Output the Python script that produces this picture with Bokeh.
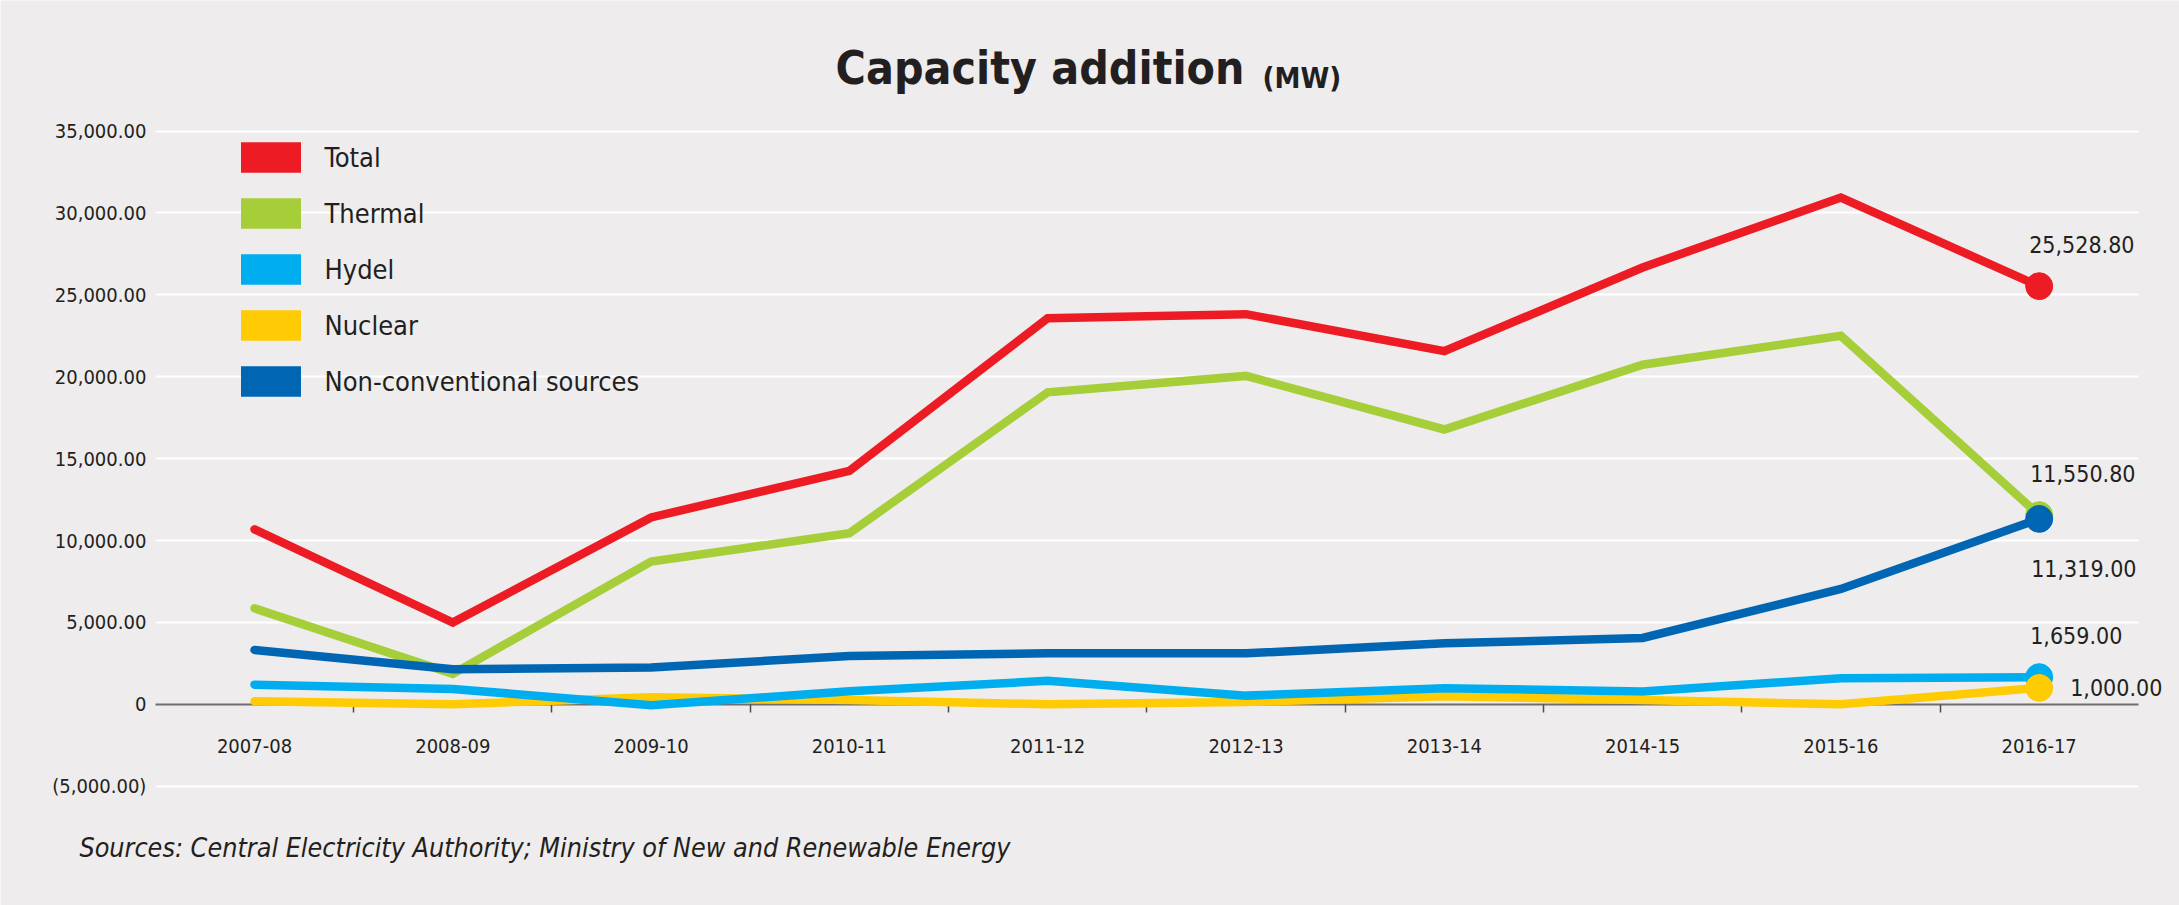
from bokeh.plotting import figure
from bokeh.models import Range1d, FixedTicker, Legend, LegendItem, Label
from bokeh.embed import file_html
from bokeh.resources import INLINE

# ---------------- data ----------------
years = ["2007-08", "2008-09", "2009-10", "2010-11", "2011-12",
         "2012-13", "2013-14", "2014-15", "2015-16", "2016-17"]
total = [10680, 4990, 11410, 14250, 23570, 23820, 21560, 26670, 30940, 25528.80]
thermal = [5860, 1860, 8710, 10450, 19050, 20050, 16780, 20730, 22500, 11550.80]
hydel = [1200, 940, -60, 790, 1430, 530, 980, 780, 1590, 1659.00]
nuclear = [180, 0, 430, 270, 0, 140, 490, 270, 0, 1000.00]
non_conv = [3320, 2140, 2240, 2950, 3110, 3110, 3720, 4050, 7040, 11319.00]

series_names = ["Total", "Thermal", "Hydel", "Nuclear", "Non-conventional sources"]
series_colors = ["#ED1C24", "#A6CE39", "#00AEEF", "#FFCB05", "#0066B3"]

y_ticks = [-5000, 0, 5000, 10000, 15000, 20000, 25000, 30000, 35000]
y_tick_labels = ["(5,000.00)", "0", "5,000.00", "10,000.00", "15,000.00",
                 "20,000.00", "25,000.00", "30,000.00", "35,000.00"]

title_text = "Capacity addition"
unit_text = "(MW)"
source_text = "Sources: Central Electricity Authority; Ministry of New and Renewable Energy"

# ---------------- style ----------------
FONT = "DejaVu Sans Condensed"
BG = "#EEECEC"
INK = "#231F20"
AXIS = "#6D6E71"

series = [total, thermal, hydel, nuclear, non_conv]
x_idx = list(range(len(years)))
x_lo, x_hi = x_idx[0] - 0.5, x_idx[-1] + 0.5

p = figure(width=2179, height=905, output_backend="svg", toolbar_location=None,
           x_range=Range1d(-1.2809, 9.7075), y_range=Range1d(-12284, 42970),
           min_border=0, min_border_left=0, min_border_right=0,
           min_border_top=0, min_border_bottom=0)
p.background_fill_color = BG
p.border_fill_color = BG
p.outline_line_color = None

# y axis, drawn at the left edge of the data area
p.yaxis.fixed_location = x_lo
p.yaxis.ticker = FixedTicker(ticks=y_ticks)
p.yaxis.major_label_overrides = dict(zip(y_ticks, y_tick_labels))
p.yaxis.axis_line_color = None
p.yaxis.major_tick_line_color = None
p.yaxis.minor_tick_line_color = None
p.yaxis.major_tick_out = 0
p.yaxis.minor_tick_out = 0
p.yaxis.major_label_standoff = 9
p.yaxis.major_label_text_font = FONT
p.yaxis.major_label_text_font_size = "20px"
p.yaxis.major_label_text_color = INK

# x axis drawn along zero
p.xaxis.fixed_location = 0
p.xaxis.bounds = (x_lo, x_hi)
p.xaxis.ticker = FixedTicker(ticks=x_idx, minor_ticks=[i + 0.5 for i in x_idx[:-1]])
p.xaxis.major_label_overrides = dict(zip(x_idx, years))
p.xaxis.axis_line_color = AXIS
p.xaxis.axis_line_width = 2
p.xaxis.major_tick_line_color = None
p.xaxis.major_tick_out = 0
p.xaxis.major_tick_in = 0
p.xaxis.minor_tick_line_color = "#4D4D4F"
p.xaxis.minor_tick_line_width = 1.5
p.xaxis.minor_tick_out = 8
p.xaxis.minor_tick_in = 0
p.xaxis.major_label_standoff = 27
p.xaxis.major_label_text_font = FONT
p.xaxis.major_label_text_font_size = "20px"
p.xaxis.major_label_text_color = INK
p.xaxis.level = "underlay"

p.xgrid.visible = False
grid_ticks = [t for t in y_ticks if t != 0]
g = p.ygrid[0]
if "cross_bounds" in g.properties():
    g.ticker = FixedTicker(ticks=grid_ticks)
    g.cross_bounds = (x_lo, x_hi)
    g.grid_line_color = "white"
    g.grid_line_width = 2
else:
    g.visible = False
    p.segment(x0=[x_lo] * len(grid_ticks), x1=[x_hi] * len(grid_ticks),
              y0=grid_ticks, y1=grid_ticks, line_color="white", line_width=2, level="underlay")

# lines (nuclear before hydel, non-conventional last)
for k in [0, 1, 3, 2, 4]:
    p.line(x_idx, series[k], line_color=series_colors[k], line_width=8.5,
           line_join="miter", line_cap="round")

# end markers
p.scatter(x=[x_idx[-1]] * len(series), y=[s[-1] for s in series],
          color=series_colors, size=27)

# end value labels: (x_offset, y_offset)
label_style = [(-10, 42), (-9, 42), (-9, 42), (31, 0), (-8, -50)]
for s, (xo, yo) in zip(series, label_style):
    p.add_layout(Label(x=x_idx[-1], y=s[-1], text=f"{s[-1]:,.2f}", x_offset=xo, y_offset=yo,
                       text_baseline="middle", text_align="left", text_font=FONT,
                       text_font_size="23px", text_color=INK))

# legend with block swatches (hidden zero-size proxies)
items = []
for name, color in zip(series_names, series_colors):
    sw = p.quad(left=[0], right=[0], top=[0], bottom=[0], fill_color=color,
                line_color=None, visible=False)
    items.append(LegendItem(label=name, renderers=[sw]))
legend = Legend(items=items, location=(232.5, 505), background_fill_alpha=0,
                border_line_color=None, padding=0, margin=0, spacing=18,
                glyph_width=75, glyph_height=38, label_height=34, label_standoff=17,
                label_text_font=FONT, label_text_font_size="27px",
                label_text_color=INK)
p.add_layout(legend)

# title and source
p.add_layout(Label(x=4.9924, y=38879, text=title_text, text_align="right",
                   text_baseline="middle", text_font=FONT, text_font_size="46px",
                   text_font_style="bold", text_color=INK))
p.add_layout(Label(x=5.0832, y=38268, text=unit_text, text_align="left",
                   text_baseline="middle", text_font=FONT, text_font_size="29px",
                   text_font_style="bold", text_color=INK))
p.add_layout(Label(x=-0.883, y=-8743, text=source_text, text_align="left",
                   text_baseline="middle", text_font=FONT, text_font_size="26.7px",
                   text_font_style="italic", text_color=INK))

open("out.html", "w").write(file_html(p, INLINE))
